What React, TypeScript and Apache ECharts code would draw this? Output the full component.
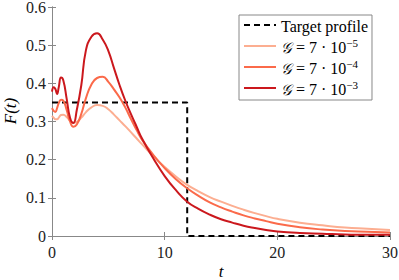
import { useEffect, useRef } from "react";
import * as echarts from "echarts";

const tValues = [0, 0.15, 0.3, 0.45, 0.6, 0.8, 1.0, 1.3, 1.6, 1.9, 2.2, 2.6, 3.0, 3.5, 4.0, 4.5, 5.0, 5.5, 6.0, 6.5, 7, 7.5, 8, 9, 10, 11, 12, 13, 14, 15, 16, 17, 18, 19, 20, 22, 24, 26, 28, 30];

const fLow = [0.315, 0.31, 0.306, 0.306, 0.31, 0.317, 0.318, 0.312, 0.302, 0.297, 0.299, 0.31, 0.324, 0.337, 0.343, 0.341, 0.332, 0.318, 0.303, 0.288, 0.272, 0.256, 0.24, 0.209, 0.181, 0.156, 0.134, 0.117, 0.102, 0.09, 0.079, 0.069, 0.06, 0.052, 0.045, 0.035, 0.028, 0.022, 0.019, 0.016];
const fMid = [0.335, 0.328, 0.325, 0.335, 0.348, 0.357, 0.355, 0.33, 0.3, 0.286, 0.292, 0.32, 0.36, 0.397, 0.414, 0.417, 0.404, 0.384, 0.363, 0.337, 0.307, 0.278, 0.252, 0.212, 0.178, 0.149, 0.125, 0.105, 0.088, 0.075, 0.064, 0.054, 0.046, 0.039, 0.032, 0.023, 0.017, 0.013, 0.011, 0.009];
const fHigh = [0.378, 0.39, 0.385, 0.372, 0.39, 0.415, 0.408, 0.36, 0.31, 0.296, 0.33, 0.395, 0.485, 0.522, 0.531, 0.515, 0.485, 0.44, 0.395, 0.355, 0.32, 0.287, 0.255, 0.203, 0.157, 0.12, 0.09, 0.071, 0.056, 0.044, 0.035, 0.027, 0.021, 0.016, 0.012, 0.008, 0.006, 0.004, 0.003, 0.003];

const targetT = [0, 12, 12, 30];
const targetF = [0.35, 0.35, 0, 0];

const seriesNames = ["Target profile", "G = 7·10^-5", "G = 7·10^-4", "G = 7·10^-3"];
const gExponents = ["−5", "−4", "−3"];
const colors = ["#000000", "#fcae91", "#fb6a4a", "#cb181d"];

const xTicks = [0, 10, 20, 30];
const yTicks = [0, 0.1, 0.2, 0.3, 0.4, 0.5, 0.6];
const xAxisTitle = "t";
const yAxisTitle = "F(t)";

const FONT = "'Liberation Serif', 'DejaVu Serif', serif";

export default function App() {
  const ref = useRef<HTMLDivElement>(null);
  useEffect(() => {
    if (!ref.current) return;
    const chart = echarts.init(ref.current, null, { renderer: "svg" });
    const zip = (ts: number[], vs: number[]) => ts.map((t, i) => [t, vs[i]]);
    const axisColor = "#888888";
    const curves = [fLow, fMid, fHigh];
    const baseX = {
      type: "value" as const,
      min: xTicks[0],
      max: xTicks[xTicks.length - 1],
      interval: 10,
      splitLine: { show: false },
      axisLine: { show: true, lineStyle: { color: axisColor, width: 1 } },
      axisTick: { show: true, inside: true, length: 4, lineStyle: { color: axisColor } },
    };
    const baseY = {
      type: "value" as const,
      min: yTicks[0],
      max: yTicks[yTicks.length - 1],
      interval: 0.1,
      splitLine: { show: false },
      axisLine: { show: true, lineStyle: { color: axisColor, width: 1 } },
      axisTick: { show: true, inside: true, length: 4, lineStyle: { color: axisColor } },
    };
    chart.setOption({
      animation: false,
      grid: { left: 52, right: 9, top: 7, bottom: 44, containLabel: false, outerBoundsMode: "none" },
      xAxis: [
        {
          ...baseX,
          position: "bottom",
          axisLabel: { fontFamily: FONT, fontSize: 16, color: "#222", margin: 8 },
        },
        { ...baseX, position: "top", axisLabel: { show: false } },
      ],
      yAxis: [
        {
          ...baseY,
          position: "left",
          axisLabel: { fontFamily: FONT, fontSize: 16, color: "#222", margin: 6 },
        },
        { ...baseY, position: "right", axisLabel: { show: false } },
      ],
      graphic: [
        {
          type: "text",
          x: 221,
          y: 271,
          style: {
            text: xAxisTitle,
            fontFamily: FONT,
            fontStyle: "italic",
            fontSize: 17,
            fill: "#000",
            align: "center",
            verticalAlign: "middle",
          },
        },
        {
          type: "text",
          x: 10,
          y: 111,
          rotation: Math.PI / 2,
          style: {
            text: yAxisTitle,
            fontFamily: FONT,
            fontStyle: "italic",
            fontSize: 17,
            fill: "#000",
            align: "center",
            verticalAlign: "middle",
          },
        },
      ],
      legend: {
        orient: "vertical",
        left: 239,
        top: 15,
        itemWidth: 32,
        itemHeight: 10,
        itemGap: 3,
        padding: [3, 4, 3, 4],
        borderColor: axisColor,
        borderWidth: 1,
        borderRadius: 0,
        backgroundColor: "#ffffff",
        itemStyle: { opacity: 0 },
        data: seriesNames,
        formatter: (name: string) => {
          const i = seriesNames.indexOf(name);
          if (i <= 0) return "{n|Target profile}";
          return "{g|𝒢}{n| = 7 · 10}{s|" + gExponents[i - 1] + "}";
        },
        textStyle: {
          fontFamily: FONT,
          fontSize: 16,
          color: "#000",
          rich: {
            n: { fontFamily: FONT, fontSize: 16, color: "#000", lineHeight: 18, verticalAlign: "bottom" },
            g: { fontFamily: "'DejaVu Serif', 'DejaVu Sans', serif", fontStyle: "italic", fontSize: 15, color: "#000", lineHeight: 18, verticalAlign: "bottom" },
            s: { fontFamily: FONT, fontSize: 11, color: "#000", lineHeight: 10, verticalAlign: "top" },
          },
        },
      },
      series: [
        {
          name: seriesNames[0],
          type: "line",
          data: zip(targetT, targetF),
          symbol: "none",
          lineStyle: { color: colors[0], width: 2, type: [6, 4] },
          itemStyle: { color: colors[0] },
          z: 2,
        },
        ...curves.map((c, i) => ({
          name: seriesNames[i + 1],
          type: "line",
          data: zip(tValues, c),
          symbol: "none",
          smooth: 0.5,
          lineStyle: { color: colors[i + 1], width: 2 },
          itemStyle: { color: colors[i + 1] },
          z: 3 + i,
        })),
      ],
    });
    return () => chart.dispose();
  }, []);
  return <div ref={ref} style={{ width: 399, height: 280, position: "absolute", left: 0, top: 0 }} />;
}
